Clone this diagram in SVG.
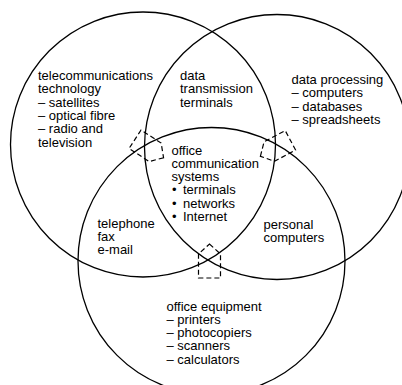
<svg xmlns="http://www.w3.org/2000/svg" width="402" height="385" viewBox="0 0 402 385">
<defs>
<style>
.c{fill:none;stroke:#000;stroke-width:1.3}
.h{fill:none;stroke:#000;stroke-width:1.2;stroke-dasharray:5 3}
text{font-family:"Liberation Sans",Arial,Helvetica,sans-serif;font-size:13px;fill:#000}
</style>
<path id="house" d="M0,-17 L11,-7 L11,17 L-11,17 L-11,-7 Z"/>
</defs>
<rect width="402" height="385" fill="#fff"/>
<g id="circles">
<circle id="c-left" class="c" cx="143" cy="144.5" r="132.5"/>
<circle id="c-right" class="c" cx="277" cy="147" r="132.5"/>
<circle id="c-bottom" class="c" cx="211.5" cy="261" r="133.5"/>
</g>
<g id="connectors">
<use href="#house" class="h" transform="translate(149.3,148.5) rotate(123)"/>
<use href="#house" class="h" transform="translate(275.4,148.3) rotate(242)"/>
<use href="#house" class="h" transform="translate(209.5,261)"/>
</g>
<g id="telecom">
<text x="38" y="80">telecommunications</text>
<text x="38" y="93.3">technology</text>
<text x="38" y="106.6">– satellites</text>
<text x="38" y="119.9">– optical fibre</text>
<text x="38" y="133.2">– radio and</text>
<text x="38" y="146.5">television</text>
</g>
<g id="data-transmission">
<text x="180" y="80">data</text>
<text x="180" y="93.3">transmission</text>
<text x="180" y="106.6">terminals</text>
</g>
<g id="data-processing">
<text x="291.5" y="84">data processing</text>
<text x="291.5" y="97.3">– computers</text>
<text x="291.5" y="110.6">– databases</text>
<text x="291.5" y="123.9">– spreadsheets</text>
</g>
<g id="office-comm">
<text x="171.5" y="154.5">office</text>
<text x="171.5" y="167.8">communication</text>
<text x="171.5" y="181.1">systems</text>
<text y="194.4"><tspan x="172">•</tspan><tspan x="183">terminals</tspan></text>
<text y="207.7"><tspan x="172">•</tspan><tspan x="183">networks</tspan></text>
<text y="221"><tspan x="172">•</tspan><tspan x="183">Internet</tspan></text>
</g>
<g id="telephone">
<text x="97.5" y="227.5">telephone</text>
<text x="97.5" y="240.8">fax</text>
<text x="97.5" y="254.1">e-mail</text>
</g>
<g id="personal-computers">
<text x="263.5" y="229">personal</text>
<text x="263.5" y="242.3">computers</text>
</g>
<g id="office-equipment">
<text x="166.5" y="310.5">office equipment</text>
<text x="166.5" y="323.8">– printers</text>
<text x="166.5" y="337.1">– photocopiers</text>
<text x="166.5" y="350.4">– scanners</text>
<text x="166.5" y="363.7">– calculators</text>
</g>
</svg>
